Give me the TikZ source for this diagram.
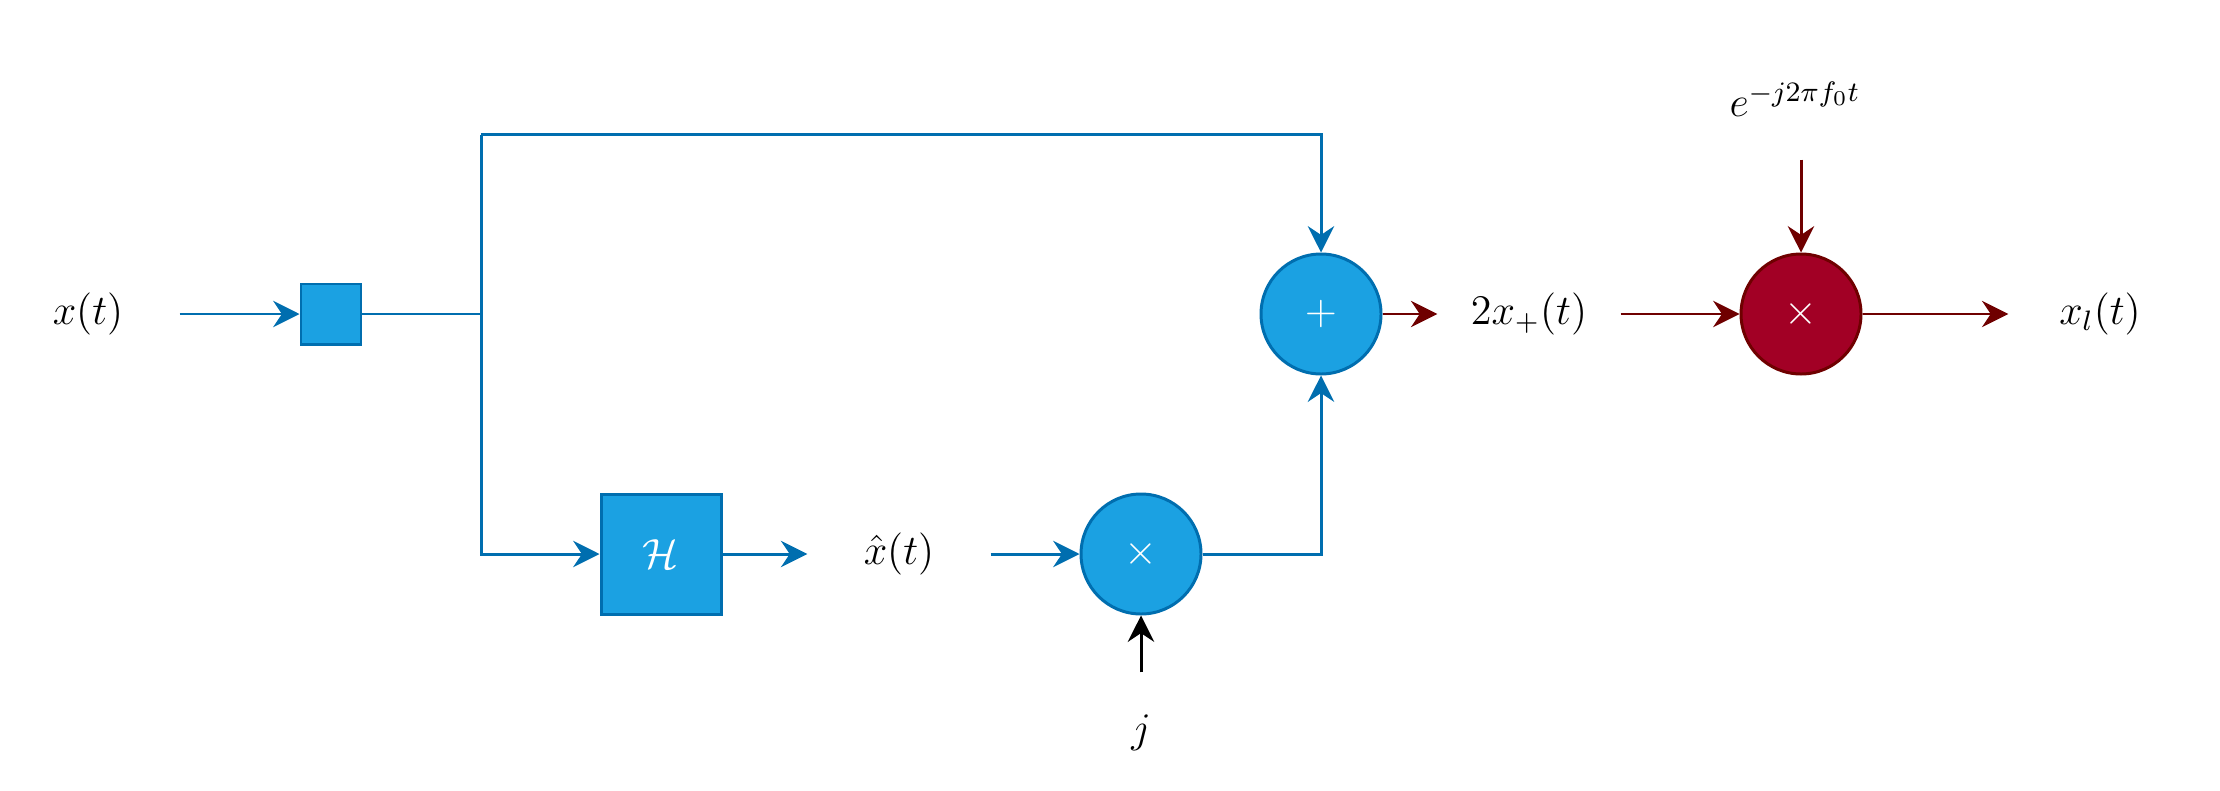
\documentclass[tikz,border=0pt]{standalone}
\usepackage{amsmath,amssymb}
\usetikzlibrary{positioning, arrows.meta}
\definecolor{blueFill}{HTML}{1BA1E2}
\definecolor{blueLine}{HTML}{006EAF}
\definecolor{redFill}{HTML}{A20025}
\definecolor{redLine}{HTML}{6F0000}
\tikzset{
  >={Stealth[length=7.5pt, width=7.5pt, inset=2.5pt]}, % filled arrow heads
  every node/.style={font=\large},
  sig/.style={minimum width=1.82cm, minimum height=1.2cm, inner sep=0pt}, % boxes of the signal labels
  block/.style={draw=blueLine, fill=blueFill, line width=0.85pt, text=white, inner sep=0pt},
  op/.style={circle, draw=blueLine, fill=blueFill, line width=0.85pt, minimum size=1.2cm, inner sep=0pt, text=white, font=\large},
  bwire/.style={->, draw=blueLine, line width=0.85pt},
  rwire/.style={->, draw=redLine, line width=0.85pt},
}

\begin{document}
\begin{tikzpicture}
      \useasboundingbox (0,0) rectangle (22.2,7.9);

      \node[sig] (x) at (0.88,4.76) {$x(t)$};
      \node[block, minimum size=0.6cm] (split) at (3.31,4.76) {};
      \coordinate (jn) at (4.81,4.76);
      \coordinate (top) at (4.81,6.555);
      \node[block, minimum size=1.2cm] (hilb) at (6.61,2.36) {$\mathcal{H}$};
      \node[sig] (xh) at (8.99,2.36) {$\hat{x}(t)$};
      \node[op] (mul) at (11.41,2.36) {$\times$};
      \node[sig] (j) at (11.41,0.57) {$j$};
      \node[op] (add) at (13.21,4.76) {$+$};
      \node[sig] (xp) at (15.29,4.76) {$2x_+(t)$};
      \node[op, draw=redLine, fill=redFill] (mix) at (18.01,4.76) {$\times$};
      \node[sig] (xl) at (21.0,4.76) {$x_l(t)$};
      \node[sig] (osc) at (17.95,6.91) {$e^{-j2\pi f_0 t}$};

      \draw[bwire] (x) -- (split);
      \draw[blueLine, line width=0.85pt] (split) -- (jn) -- (top);
      \draw[bwire] (top) -| (add.north);
      \draw[bwire] (jn) |- (hilb.west);
      \draw[bwire] (hilb) -- (xh);
      \draw[bwire] (xh) -- (mul);
      \draw[->, line width=0.85pt] (j) -- (mul);
      \draw[bwire] (mul.east) -| (add.south);
      \draw[rwire] (add) -- (xp);
      \draw[rwire] (xp) -- (mix);
      \draw[rwire] (osc.south -| mix.north) -- (mix.north);
      \draw[rwire] (mix) -- (xl);
\end{tikzpicture}
\end{document}
